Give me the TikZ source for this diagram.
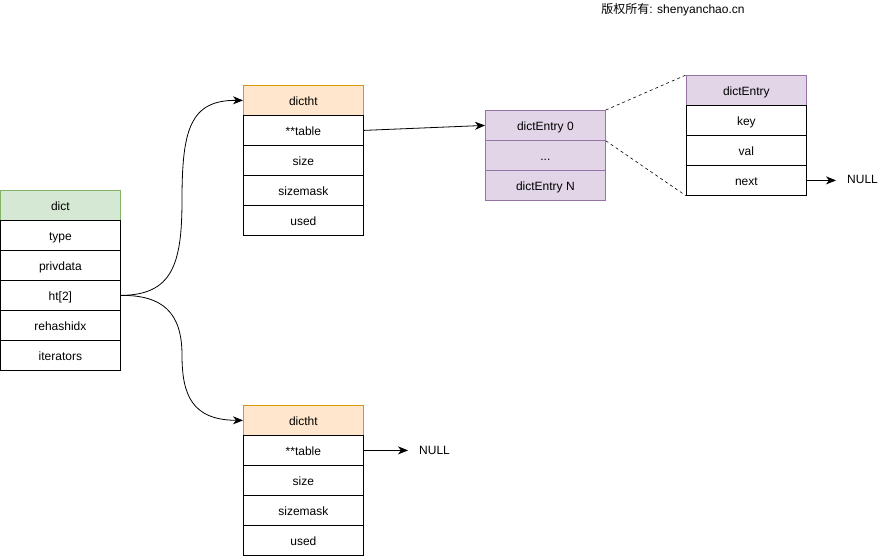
\documentclass[tikz,border=0pt]{standalone}
\usepackage{fontspec}
\setmainfont{Liberation Sans}
\newfontfamily\cjkfont{Noto Sans CJK SC}
\usetikzlibrary{arrows.meta}
\definecolor{greenfill}{HTML}{D5E8D4}
\definecolor{greenline}{HTML}{82B366}
\definecolor{orangefill}{HTML}{FFE6CC}
\definecolor{orangeline}{HTML}{D79B00}
\definecolor{purplefill}{HTML}{E1D5E7}
\definecolor{purpleline}{HTML}{9673A6}
\begin{document}
\begin{tikzpicture}[x=1pt,y=-1pt,
  every node/.style={font=\fontsize{12}{14}\selectfont},
  cell/.style={draw=black,fill=white,minimum width=120pt,minimum height=30pt,inner sep=0pt,anchor=north west,line width=0.8pt,text height=11pt,text depth=0pt},
  dicthead/.style={cell,draw=greenline,fill=greenfill},
  hthead/.style={cell,draw=orangeline,fill=orangefill},
  pcell/.style={cell,draw=purpleline,fill=purplefill},
  nulltext/.style={anchor=west,inner sep=0pt,text height=11pt,text depth=0pt},
  link/.style={draw=black,line width=0.8pt,-{Stealth[length=10pt,width=8pt,inset=3pt]}},
  dashlink/.style={draw=black,line width=0.6pt,dash pattern=on 3pt off 3pt}]
\useasboundingbox (0,0) rectangle (887,556);
% dict
\node[dicthead] (d0) at (0,190) {dict};
\node[cell] (d1) at (0,220) {type};
\node[cell] (d2) at (0,250) {privdata};
\node[cell] (d3) at (0,280) {ht[2]};
\node[cell] (d4) at (0,310) {rehashidx};
\node[cell] (d5) at (0,340) {iterators};
% dictht 1
\node[hthead] (a0) at (243,85) {dictht};
\node[cell] (a1) at (243,115) {**table};
\node[cell] (a2) at (243,145) {size};
\node[cell] (a3) at (243,175) {sizemask};
\node[cell] (a4) at (243,205) {used};
% dictht 2
\node[hthead] (b0) at (243,405) {dictht};
\node[cell] (b1) at (243,435) {**table};
\node[cell] (b2) at (243,465) {size};
\node[cell] (b3) at (243,495) {sizemask};
\node[cell] (b4) at (243,525) {used};
% dictEntry array
\node[pcell] (e0) at (485,110) {dictEntry 0};
\node[pcell] (e1) at (485,140) {...};
\node[pcell] (e2) at (485,170) {dictEntry N};
% dictEntry
\node[pcell] (f0) at (686,75) {dictEntry};
\node[cell] (f1) at (686,105) {key};
\node[cell] (f2) at (686,135) {val};
\node[cell] (f3) at (686,165) {next};
% NULL labels
\node[nulltext] (n1) at (847,178) {NULL};
\node[nulltext] (n2) at (419,449) {NULL};
% watermark
\node[anchor=center,inner sep=0pt] (wm) at (673,10) {{\cjkfont 版权所有}: shenyanchao.cn};
% connectors
\draw[link] (d3.east) .. controls (172,295) and (182,265) .. (182,200)
  .. controls (182,130) and (190,100) .. (a0.west);
\draw[link] (d3.east) .. controls (162,295) and (182,312) .. (182,355)
  .. controls (182,395) and (192,420) .. (b0.west);
\draw[link] (a1.east) -- (e0.west);
\draw[link] (f3.east) -- ([xshift=-11pt]n1.west |- f3.east);
\draw[link] (b1.east) -- ([xshift=-11pt]n2.west |- b1.east);
\draw[dashlink] (e0.north east) -- (f0.north west);
\draw[dashlink] (e0.south east) -- (f3.south west);
\end{tikzpicture}
\end{document}
